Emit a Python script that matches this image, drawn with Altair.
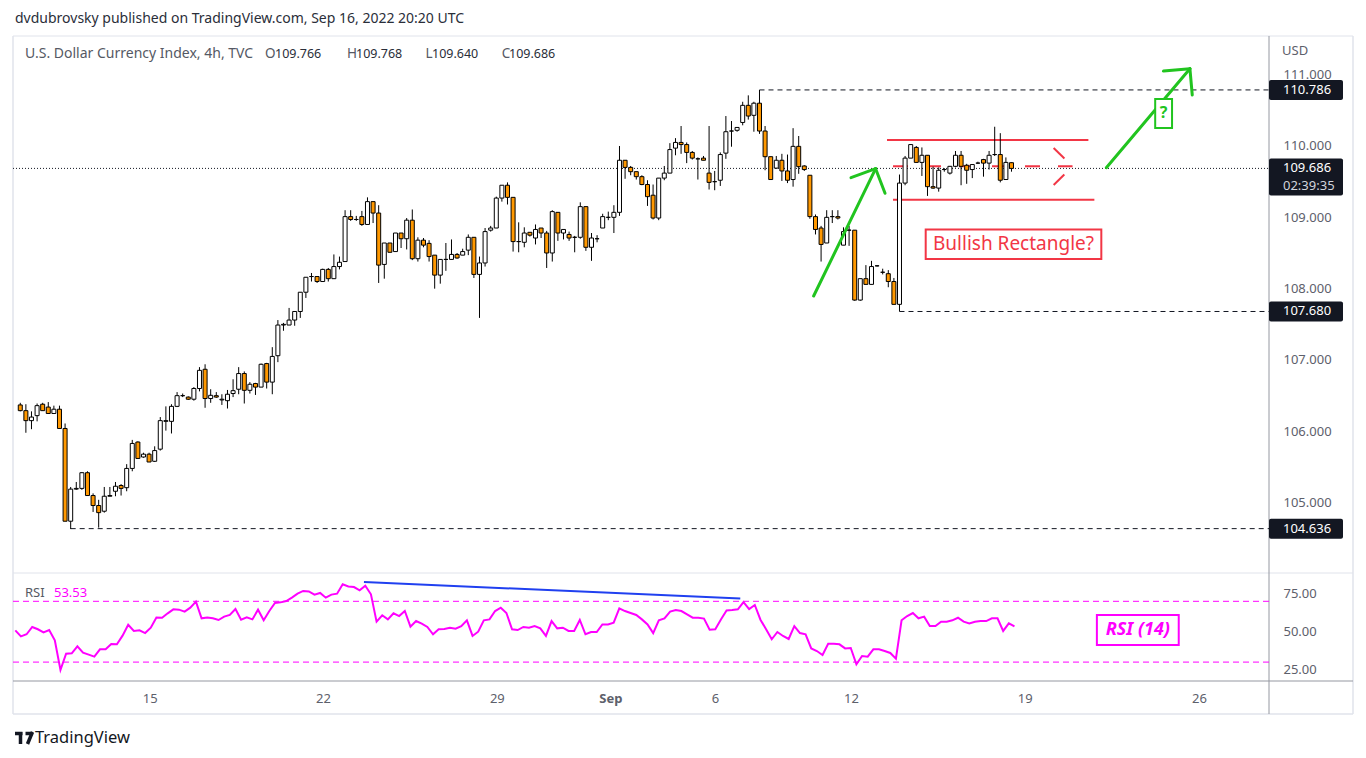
import altair as alt
import pandas as pd

# ---------------- data ----------------
opens = [
106.37,106.29,106.15,106.22,106.38,106.34,106.25,106.31,106.04,104.74,
105.19,105.20,105.42,105.10,104.96,104.88,105.09,105.16,105.24,105.21,
105.48,105.85,105.64,105.68,105.58,105.75,106.14,106.14,106.35,106.50,
106.48,106.45,106.60,106.87,106.46,106.50,106.44,106.43,106.53,106.59,
106.81,106.575,106.67,106.62,106.95,106.69,107.06,107.49,107.49,107.56,
107.68,107.95,108.17,108.17,108.10,108.27,108.14,108.31,108.38,109.01,
108.97,109.01,108.90,109.22,109.06,108.34,108.64,108.52,108.78,108.70,
108.96,108.42,108.68,108.635,108.47,108.19,108.41,108.41,108.48,108.47,
108.54,108.72,108.20,108.36,108.82,108.85,109.27,109.45,109.28,108.66,
108.65,108.79,108.71,108.85,108.78,108.50,109.07,108.78,108.76,108.72,
108.72,109.15,108.58,108.70,108.85,109.00,109.00,109.07,109.80,109.70,
109.64,109.57,109.46,109.31,108.99,109.55,109.62,109.97,110.05,110.02,
109.91,109.82,109.83,109.62,109.50,109.52,109.90,110.21,110.22,110.33,
110.57,110.43,110.60,110.21,109.85,109.69,109.80,109.65,109.53,109.995,
109.72,109.59,109.01,108.85,108.64,109.01,109.01,108.61,108.82,108.82,
107.84,108.14,108.06,108.32,108.23,108.21,108.10,107.78,109.48,109.83,
109.98,109.77,109.87,109.43,109.41,109.67,109.62,109.715,109.87,109.73,
109.67,109.76,109.81,109.76,109.88,109.88,109.53,109.766]

highs = [
106.40,106.38,106.28,106.39,106.40,106.41,106.36,106.36,106.11,105.22,
105.29,105.43,105.44,105.13,105.04,105.22,105.22,105.29,105.26,105.54,
105.88,105.86,105.70,105.70,105.79,106.20,106.35,106.38,106.55,106.53,
106.49,106.62,106.90,106.94,106.59,106.55,106.52,106.58,106.73,106.90,
106.84,106.69,106.68,106.95,106.96,107.18,107.56,107.52,107.73,107.68,
107.95,108.16,108.22,108.17,108.28,108.29,108.48,108.45,109.10,109.10,
109.02,109.09,109.28,109.22,109.17,108.64,108.64,108.78,108.78,108.99,
109.11,108.72,108.71,108.68,108.47,108.41,108.64,108.69,108.50,108.56,
108.76,108.72,108.45,108.85,108.88,109.29,109.45,109.49,109.28,108.93,
108.86,108.79,108.90,108.85,108.81,109.10,109.07,108.83,108.80,108.74,
109.21,109.15,108.78,108.75,109.05,109.08,109.17,110.00,109.80,109.72,
109.64,109.59,109.52,109.46,109.55,109.72,110.04,110.11,110.28,110.05,
109.93,109.84,109.86,110.28,109.65,109.91,110.42,110.35,110.26,110.62,
110.71,110.62,110.786,110.28,109.85,109.86,109.89,109.88,110.25,110.14,
109.73,109.59,109.04,108.88,109.10,109.10,109.10,108.86,108.88,108.82,
108.14,108.33,108.39,108.33,108.28,108.26,108.15,109.60,109.86,110.02,
110.00,109.98,109.87,109.71,109.70,109.69,109.72,109.93,109.93,109.75,
109.74,109.78,109.82,109.93,110.27,110.18,109.84,109.768]

lows = [
106.28,105.98,106.03,106.14,106.29,106.25,106.25,106.04,104.74,104.63,
105.18,105.18,105.10,104.87,104.65,104.86,105.09,105.09,105.10,105.16,
105.44,105.62,105.63,105.57,105.57,105.73,106.01,105.97,106.34,106.48,
106.44,106.43,106.56,106.33,106.40,106.47,106.37,106.32,106.48,106.52,
106.39,106.53,106.51,106.62,106.60,106.52,106.97,107.41,107.49,107.48,
107.59,107.87,108.10,108.08,108.10,108.10,108.14,108.27,108.38,108.95,
108.95,108.88,108.90,108.92,108.08,108.14,108.51,108.52,108.57,108.55,
108.40,108.38,108.58,108.38,108.00,108.07,108.25,108.41,108.42,108.47,
108.47,108.15,107.59,108.31,108.80,108.85,109.22,109.18,108.52,108.51,
108.58,108.73,108.62,108.71,108.29,108.38,108.67,108.69,108.67,108.51,
108.70,108.53,108.39,108.65,108.85,108.96,108.78,109.02,109.54,109.59,
109.53,109.45,109.16,108.97,108.96,109.52,109.62,109.87,109.89,109.76,
109.81,109.53,109.80,109.39,109.38,109.44,109.82,109.99,110.20,110.29,
110.37,110.20,110.17,109.66,109.53,109.68,109.51,109.48,109.43,109.61,
109.65,108.98,108.76,108.38,108.64,108.92,108.97,108.61,108.60,107.83,
107.83,108.06,108.06,108.31,108.20,108.02,107.78,107.68,109.45,109.83,
109.77,109.58,109.30,109.40,109.36,109.64,109.60,109.70,109.45,109.47,
109.55,109.75,109.57,109.67,109.86,109.49,109.53,109.640]

closes = [
106.29,106.15,106.20,106.36,106.29,106.25,106.31,106.04,104.74,105.19,
105.20,105.42,105.10,104.96,104.86,105.09,105.10,105.23,105.20,105.48,
105.83,105.62,105.68,105.57,105.73,106.15,106.15,106.35,106.50,106.50,
106.45,106.60,106.855,106.46,106.505,106.48,106.45,106.52,106.57,106.81,
106.575,106.66,106.62,106.94,106.69,107.05,107.49,107.50,107.56,107.68,
107.95,108.16,108.17,108.10,108.27,108.14,108.31,108.37,109.01,108.97,
108.97,108.90,109.22,109.06,108.33,108.64,108.51,108.78,108.70,108.96,
108.42,108.68,108.61,108.45,108.19,108.41,108.41,108.48,108.43,108.52,
108.72,108.20,108.36,108.80,108.85,109.27,109.45,109.28,108.66,108.66,
108.78,108.75,108.83,108.78,108.50,109.08,108.78,108.83,108.71,108.72,
109.15,108.58,108.71,108.70,109.01,109.00,109.07,109.80,109.70,109.64,
109.57,109.46,109.29,108.99,109.55,109.62,109.95,110.05,110.02,109.91,
109.83,109.82,109.80,109.49,109.50,109.88,110.20,110.21,110.26,110.57,
110.42,110.60,110.21,109.85,109.53,109.80,109.65,109.52,109.995,109.71,
109.67,109.01,108.83,108.62,109.00,109.01,108.99,108.80,108.82,107.84,
108.14,108.06,108.31,108.32,108.23,108.10,107.78,109.48,109.83,110.02,
109.77,109.87,109.43,109.41,109.66,109.67,109.715,109.87,109.715,109.66,
109.74,109.76,109.76,109.87,109.88,109.52,109.77,109.686]

rsi_vals = [
50.9,46.9,48.3,53.1,51.6,49.6,51.1,44.3,24.8,35.5,
35.8,40.4,36.2,34.9,33.6,38.4,38.4,41.9,41.7,47.4,
54.6,50.5,50.9,49.1,52.6,59.4,59.2,62.1,64.7,64.5,
63.2,65.8,69.8,58.8,59.4,58.8,57.7,59.9,61.0,64.9,
57.9,59.4,58.1,64.5,57.5,63.6,68.9,69.3,70.2,72.4,
75.0,76.8,76.5,74.4,75.5,72.4,74.4,75.0,81.2,79.8,
79.4,77.2,80.3,74.6,56.6,60.8,58.1,62.1,60.3,63.6,
53.3,57.0,55.3,53.1,48.3,51.6,51.8,52.6,52.0,53.7,
57.5,47.2,50.0,57.5,58.1,63.6,65.8,62.3,51.6,51.1,
53.1,52.6,53.7,52.2,47.2,57.0,52.2,52.6,50.5,50.5,
57.7,48.3,49.8,49.8,54.8,54.8,55.9,65.4,63.6,62.3,
61.0,58.1,54.8,49.1,57.5,58.8,63.2,64.3,63.6,61.4,
59.2,59.2,58.6,51.3,51.6,58.1,64.0,64.3,64.7,69.5,
64.9,67.6,57.9,51.6,45.0,49.8,47.2,45.2,53.7,49.1,
48.3,39.0,37.3,34.7,42.1,42.1,41.7,39.0,39.3,28.5,
34.0,33.6,38.4,38.4,37.3,36.0,32.3,57.5,60.3,62.3,
58.8,59.9,53.7,53.7,56.6,56.6,57.5,59.2,56.6,55.5,
56.6,57.0,57.0,58.8,58.8,50.5,55.5,53.53]

price_ticks = [105, 106, 107, 108, 109, 110, 111]
rsi_ticks = [25, 50, 75]
rsi_levels = [70, 30]
date_pos = [24.8, 55.5, 86.3, 106.4, 124.95, 149.05, 179.8, 210.7]
date_labels = ["15", "22", "29", "Sep", "6", "12", "19", "26"]

level_price = [110.786, 107.680, 104.636]
level_start = [133, 158, 10]

# annotation drawings (candle index, price)
green_x1 = [142.67, 149.34, 153.74, 194.93, 205.15, 209.86]
green_y1 = [107.897, 109.556, 109.682, 109.696, 111.051, 111.084]
green_x2 = [153.74, 153.74, 155.42, 209.86, 209.86, 210.28]
green_y2 = [109.682, 109.682, 109.337, 111.084, 111.084, 110.715]

red_x1 = [155.77, 156.84]
red_x2 = [191.73, 192.80]
red_y = [110.084, 109.247]

redd_x1 = [156.84, 185.53, 185.53]
redd_y1 = [109.715, 109.972, 109.453]
redd_x2 = [188.9, 188.9, 188.9]
redd_y2 = [109.715, 109.715, 109.715]

bull_box_x = [162.68, 194.04]
bull_box_y = [108.829, 108.416]
bull_text_xy = [178.36, 108.622]
q_box_x = [203.66, 206.67]
q_box_y = [110.659, 110.252]
q_text_xy = [205.17, 110.456]

blue_x = [62.76, 129.43]
blue_y = [82.7, 71.84]
rsi_box_x = [192.6, 207.1]
rsi_box_y = [61.0, 41.25]
rsi_text_xy = [199.85, 50.8]

# ---------------- chart ----------------
n = len(opens)
idx = list(range(1, n + 1))
df = pd.DataFrame({"i": idx, "o": opens, "h": highs, "l": lows, "c": closes})
rsi_df = pd.DataFrame({"i": idx, "rsi": rsi_vals})
one = pd.DataFrame({"k": [0]})

W, H_TOP, H_RSI = 1256, 537, 108
FONT = "Noto Sans"
AX_COL = "#5d606b"
ORANGE = "#ff9800"
RED = "#f23645"
GREEN = "#21c41f"
MAG = "#ff00ff"

xs = alt.Scale(domain=[0.593, 223.09], nice=False, zero=False)
ys = alt.Scale(domain=[104.014, 111.542], nice=False, zero=False)
rs = alt.Scale(domain=[17.57, 88.62], nice=False, zero=False)

price_axis = alt.Axis(orient="right", values=price_ticks, format=".3f", ticks=False, tickSize=0,
                      domain=False, grid=False, labelPadding=14, labelFontSize=13,
                      labelColor=AX_COL, labelFont=FONT, title=None, labelOverlap=False)
label_expr = ("[" + ",".join(f"'{s}'" for s in date_labels) + "][indexof(["
              + ",".join(str(p) for p in date_pos) + "], datum.value)]")
date_axis = alt.Axis(values=date_pos, labelExpr=label_expr, ticks=False, tickSize=0, domain=False,
                     grid=False, labelPadding=17, labelBaseline="middle", labelFontSize=13,
                     labelColor=AX_COL, labelFont=FONT, title=None, labelOverlap=False, labelFlush=False,
                     labelFontWeight={"condition": {"test": f"datum.value == {date_pos[3]}", "value": "bold"},
                                      "value": "normal"})
rsi_axis = alt.Axis(orient="right", values=rsi_ticks, format=".2f", ticks=False, tickSize=0, domain=False,
                    grid=False, labelPadding=14, labelFontSize=13, labelColor=AX_COL, labelFont=FONT,
                    title=None, labelOverlap=False)


def prule(x, y, x2, y2, color, width=1.0, dash=None, cap="butt"):
    kw = dict(color=color, strokeWidth=width, strokeCap=cap)
    if dash:
        kw["strokeDash"] = dash
    return alt.Chart(one).mark_rule(**kw).encode(
        x=alt.value(x), y=alt.value(y), x2=alt.value(x2), y2=alt.value(y2))


def ptext(x, y, txt, size=13, color="#131722", weight="normal", align="left", style=None, font=FONT):
    kw = dict(text=txt, fontSize=size, color=color, fontWeight=weight, align=align,
              baseline="middle", font=font)
    if style:
        kw["fontStyle"] = style
    return alt.Chart(one).mark_text(**kw).encode(x=alt.value(x), y=alt.value(y))


def segs(x1, y1, x2, y2, color, width, yscale, xaxis, yaxis, dash=None, cap="butt"):
    d = pd.DataFrame({"x1": x1, "y1": y1, "x2": x2, "y2": y2})
    kw = dict(color=color, strokeWidth=width, strokeCap=cap)
    if dash:
        kw["strokeDash"] = dash
    return alt.Chart(d).mark_rule(**kw).encode(
        x=alt.X("x1:Q", scale=xs, axis=xaxis), y=alt.Y("y1:Q", scale=yscale, axis=yaxis),
        x2="x2:Q", y2="y2:Q")


def box(bx, by, tx, txt, color, yscale, xaxis, yaxis, size, weight="normal", style=None):
    d = pd.DataFrame({"x": [bx[0]], "x2": [bx[1]], "y": [by[0]], "y2": [by[1]]})
    r = alt.Chart(d).mark_rect(fill="white", stroke=color, strokeWidth=2).encode(
        x=alt.X("x:Q", scale=xs, axis=xaxis), x2="x2:Q",
        y=alt.Y("y:Q", scale=yscale, axis=yaxis), y2="y2:Q")
    kw = dict(text=txt, color=color, fontSize=size, font=FONT, fontWeight=weight,
              align="center", baseline="middle")
    if style:
        kw["fontStyle"] = style
    t = alt.Chart(pd.DataFrame({"x": [tx[0]], "y": [tx[1]]})).mark_text(**kw).encode(
        x=alt.X("x:Q", scale=xs, axis=xaxis), y=alt.Y("y:Q", scale=yscale, axis=yaxis))
    return [r, t]


# frame and separators (pixel layout, top-panel coordinates)
frame = [
    prule(-4, -27, -4, -26, "#ffffff", 0.01),
    prule(-4, 718, -4, 719, "#ffffff", 0.01),
    prule(0, 0, 1340, 0, "#e0e3eb"),
    prule(0, 0, 0, 678, "#e0e3eb", 1.5),
    prule(1340, 0, 1340, 678, "#e0e3eb", 1.5),
    prule(0, 678, 1340, 678, "#e0e3eb", 1.5),
    prule(0, 537, 1340, 537, "#e0e3eb"),
    prule(0, 645, 1340, 645, "#9598a1"),
    prule(1256, 0, 1256, 678, "#9598a1"),
]

last_line = alt.Chart(pd.DataFrame({"p": [closes[-1]]})).mark_rule(
    color="#131722", strokeDash=[1, 2], strokeWidth=1).encode(
    y=alt.Y("p:Q", scale=ys, axis=price_axis), x=alt.value(0), x2=alt.value(W))

levels = alt.Chart(pd.DataFrame({"p": level_price, "s": level_start})).mark_rule(
    color="#131722", strokeDash=[5, 4], strokeWidth=1).encode(
    x=alt.X("s:Q", scale=xs, axis=None), x2=alt.value(W), y=alt.Y("p:Q", scale=ys, axis=price_axis))

red_solid = segs(red_x1, red_y, red_x2, red_y, RED, 2, ys, None, price_axis)
red_dash = segs(redd_x1, redd_y1, redd_x2, redd_y2, RED, 2, ys, None, price_axis, dash=[15, 18])

wicks = alt.Chart(df).mark_rule(color="#000000", strokeWidth=1).encode(
    x=alt.X("i:Q", scale=xs, axis=None),
    y=alt.Y("l:Q", scale=ys, axis=price_axis), y2="h:Q")
bodies = alt.Chart(df).mark_bar(size=4, stroke="#000000", strokeWidth=1).encode(
    x=alt.X("i:Q", scale=xs, axis=None),
    y=alt.Y("o:Q", scale=ys, axis=price_axis), y2="c:Q",
    fill=alt.condition("datum.c < datum.o", alt.value(ORANGE), alt.value("#ffffff")))

green = segs(green_x1, green_y1, green_x2, green_y2, GREEN, 3, ys, None, price_axis, cap="round")
bull = box(bull_box_x, bull_box_y, bull_text_xy, "Bullish Rectangle?", RED, ys, None, price_axis, 19)
qb = box(q_box_x, q_box_y, q_text_xy, "?", GREEN, ys, None, price_axis, 16, weight="bold")

tag_price = [level_price[0], closes[-1], level_price[1], level_price[2]]
tags = []
for k, p in enumerate(tag_price):
    bottom_off = 27 if k == 1 else 10
    tdf = pd.DataFrame({"p": [p]})
    tags.append(alt.Chart(tdf).mark_rect(color="#131722", cornerRadius=2, yOffset=-10, y2Offset=bottom_off).encode(
        x=alt.value(W), x2=alt.value(W + 74), y=alt.Y("p:Q", scale=ys, axis=price_axis), y2="p:Q"))
    tags.append(alt.Chart(tdf).mark_text(text=f"{p:.3f}", color="#ffffff", fontSize=13, font=FONT,
                                         align="left", baseline="middle").encode(
        x=alt.value(W + 14), y=alt.Y("p:Q", scale=ys, axis=price_axis)))
tags.append(alt.Chart(pd.DataFrame({"p": [closes[-1]]})).mark_text(
    text="02:39:35", color="#d1d4dc", fontSize=13, font=FONT, align="left", baseline="middle", dy=18).encode(
    x=alt.value(W + 14), y=alt.Y("p:Q", scale=ys, axis=price_axis)))

# TradingView logo glyph (pixel layout)
logo = [
    prule(2, 697.5, 9.5, 697.5, "#131722", 3.5),
    prule(7.5, 696, 7.5, 708, "#131722", 3.5),
    prule(12.5, 697.5, 19.5, 697.5, "#131722", 3.5),
    prule(19.5, 696, 14.5, 708, "#131722", 3.5),
]

texts = [
    ptext(2, -17, "dvdubrovsky published on TradingView.com, Sep 16, 2022 20:20 UTC", size=14, color="#2a2e39"),
    ptext(12, 18, "U.S. Dollar Currency Index, 4h, TVC", size=14, color="#555964"),
    ptext(1269, 15, "USD", size=13, color=AX_COL),
    ptext(22, 702, "TradingView", size=16.5, color="#131722"),
]
leg_letters = ["O", "H", "L", "C"]
leg_vals = [opens[-1], highs[-1], lows[-1], closes[-1]]
leg_lx = [252, 334, 412.5, 488.8]
leg_nx = [262, 343, 419, 496]
for L, v, lx, nx in zip(leg_letters, leg_vals, leg_lx, leg_nx):
    texts.append(ptext(lx, 18, L, size=13.5, color="#555964"))
    texts.append(ptext(nx, 18, f"{v:.3f}", size=12.5, color="#2a2e39"))

top = alt.layer(*frame, last_line, levels, red_dash, red_solid, wicks, bodies, green,
                *bull, *qb, *tags, *logo, *texts).properties(width=W, height=H_TOP)

# ---------------- RSI panel ----------------
rsi_lv = alt.Chart(pd.DataFrame({"v": rsi_levels})).mark_rule(
    color=MAG, strokeDash=[6, 4], strokeWidth=1).encode(
    y=alt.Y("v:Q", scale=rs, axis=rsi_axis), x=alt.value(0), x2=alt.value(W))
rsi_line = alt.Chart(rsi_df).mark_line(color=MAG, strokeWidth=2).encode(
    x=alt.X("i:Q", scale=xs, axis=date_axis), y=alt.Y("rsi:Q", scale=rs, axis=rsi_axis))
blue = segs([blue_x[0]], [blue_y[0]], [blue_x[1]], [blue_y[1]], "#2040f0", 2, rs, date_axis, rsi_axis)
rbox = box(rsi_box_x, rsi_box_y, rsi_text_xy, "RSI (14)", MAG, rs, date_axis, rsi_axis, 18,
           weight="bold", style="italic")
rsi_texts = [
    ptext(12, 20, "RSI", size=13, color="#555964"),
    ptext(41, 20, f"{rsi_vals[-1]:.2f}", size=13, color=MAG),
]

bottom = alt.layer(rsi_lv, rsi_line, blue, *rbox, *rsi_texts).properties(width=W, height=H_RSI)

chart = alt.vconcat(top, bottom, spacing=0, bounds="flush").properties(
    padding=0, background="white").configure_view(strokeWidth=0)

chart.save("out.html", embed_options={"renderer": "svg", "actions": False})
